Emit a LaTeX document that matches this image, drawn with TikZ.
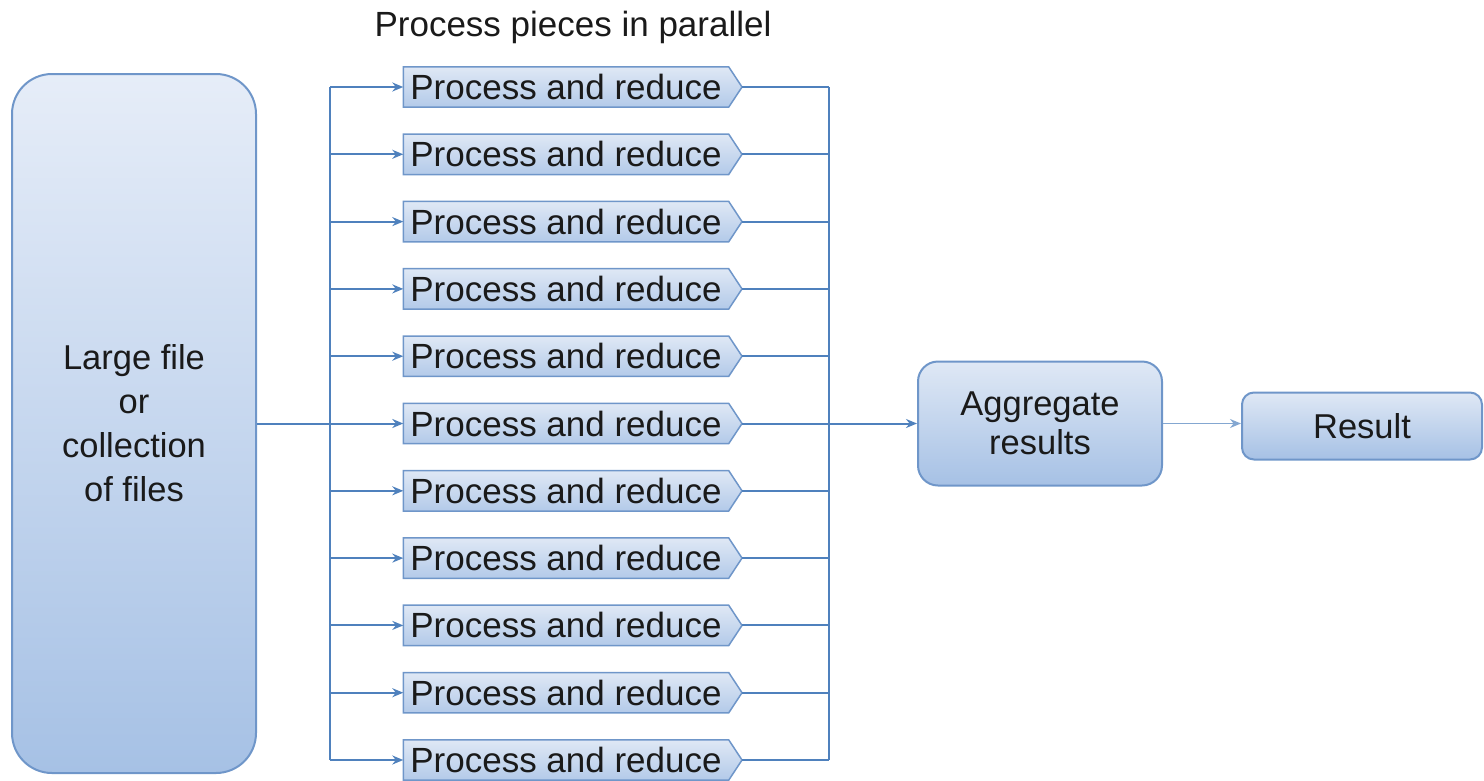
\documentclass[tikz,border=0pt]{standalone}
\usepackage{fontspec}
\setmainfont{Liberation Sans}
\usetikzlibrary{arrows.meta,backgrounds}
\definecolor{lineblue}{HTML}{4F81BD}
\definecolor{boxedge}{HTML}{6F96C9}
\definecolor{toplight}{HTML}{E6EDF8}
\definecolor{botdark}{HTML}{A6C1E5}
\definecolor{ptop}{HTML}{DFE8F5}
\definecolor{pbot}{HTML}{B3CAE9}
\definecolor{txt}{HTML}{1A1A1A}
\begin{document}
\begin{tikzpicture}[x=1pt,y=-1pt,
  conn/.style={draw=lineblue, line width=2pt},
  arr/.style={conn, -{Stealth[length=11pt,width=9pt]}},
  thinarr/.style={draw=lineblue!70, line width=1.5pt, -{Stealth[length=11pt,width=9pt]}},
  bigbox/.style={draw=boxedge, line width=2pt, rounded corners=40pt, top color=toplight, bottom color=botdark,
    minimum width=244pt, minimum height=699pt, align=center, text=txt, font=\fontsize{34.5}{44}\selectfont},
  midbox/.style={draw=boxedge, line width=2pt, rounded corners=20pt, top color=ptop, bottom color=botdark,
    align=center, text=txt, font=\fontsize{34.5}{39}\selectfont},
  procbody/.style={minimum width=325pt, minimum height=40pt, inner sep=0pt, text=txt, font=\fontsize{35}{40}\selectfont},
  procshape/.style={draw=boxedge, line width=1.5pt, top color=ptop, bottom color=pbot},
  title/.style={text=txt, font=\fontsize{35}{40}\selectfont}]
\useasboundingbox (0,0) rectangle (1484,780);

\node[title] (ttl) at (573,27) {Process pieces in parallel};

\node[bigbox] (src) at (134,423.5) {Large file\\or\\collection\\of files};

\coordinate (bl) at (330,423.5);
\coordinate (br) at (829,423.5);

\foreach \i in {1,...,11}{
  \pgfmathsetmacro\yy{87+(\i-1)*67.3}
  \node[procbody] (p\i) at (566,\yy) {Process and reduce};
  \coordinate (t\i) at (742,\yy);
  \begin{scope}[on background layer]
    \path[procshape] (p\i.north west) -- (p\i.north east) -- (t\i) -- (p\i.south east) -- (p\i.south west) -- cycle;
  \end{scope}
}

\node[midbox, minimum width=244pt, minimum height=124pt] (agg) at (1040,423.5) {Aggregate\\results};
\node[midbox, rounded corners=12pt, minimum width=240pt, minimum height=67pt] (res) at (1362,426) {Result};

\draw[conn] (bl |- p1.west) -- (bl |- p11.west);
\draw[conn] (src.east |- bl) -- (bl);
\foreach \i in {1,...,11}{
  \draw[arr] (bl |- p\i.west) -- (p\i.west);
  \draw[conn] (t\i) -- (br |- t\i);
}
\draw[conn] (br |- t1) -- (br |- t11);
\draw[arr] (t6) -- (agg.west |- t6);
\draw[thinarr] (agg.east |- t6) -- (res.west |- t6);
\end{tikzpicture}
\end{document}
